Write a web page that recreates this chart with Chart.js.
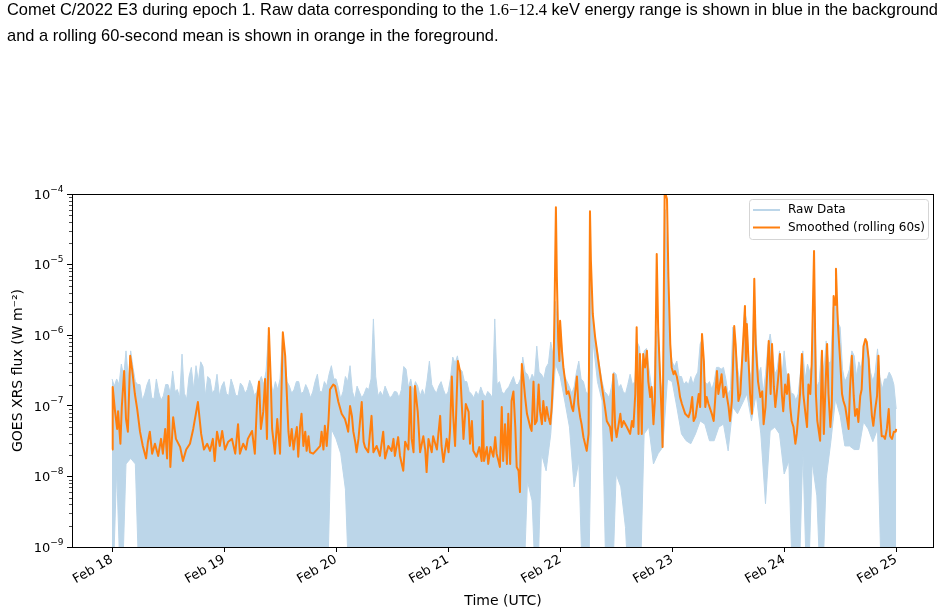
<!DOCTYPE html>
<html>
<head>
<meta charset="utf-8">
<script src="https://cdn.jsdelivr.net/npm/chart.js@4.4.1/dist/chart.umd.min.js"></script>
<style>
  html, body { margin: 0; padding: 0; background: #fff; }
  #lienzo { position: relative; width: 945px; height: 615px; overflow: hidden; }
  #grafico { position: absolute; left: 0; top: 0; }
  #leyenda-texto { position: absolute; left: 7px; top: 0; font-family: "Liberation Sans", Arial, sans-serif; font-size: 17px; color: #000; white-space: nowrap; transform-origin: 0 0; }
  #leyenda-texto div { position: absolute; left: 0; }
  .mate { font-family: "Liberation Serif", serif; }
</style>
</head>
<body>
<div id="lienzo">
  <canvas id="grafico" width="945" height="615"></canvas>
  <div id="leyenda-texto">
    <div id="linea1" style="top:0px">Comet C/2022 E3 during epoch 1. Raw data corresponding to the <span class="mate">1.6−12.4</span> keV energy range is shown in blue in the background</div>
    <div style="top:26px">and a rolling 60-second mean is shown in orange in the foreground.</div>
  </div>
</div>
<script>
// horas desde Feb 18 00:00 UTC
const etiquetasDias = ['Feb 18', 'Feb 19', 'Feb 20', 'Feb 21', 'Feb 22', 'Feb 23', 'Feb 24', 'Feb 25'];
const horasDias = [0, 24, 48, 72, 96, 120, 144, 168];
const decadasY = [1e-9, 1e-8, 1e-7, 1e-6, 1e-5, 1e-4];

// media movil 60 s (naranja)
const horasSuavizado = [
  0, 0.15, 0.6, 1.1, 1.3, 1.8, 2.1, 2.6, 3.0, 3.4, 3.9, 4.3, 4.9, 5.4, 6.0, 6.6, 7.3, 7.7, 8.1, 8.6,
  9.2, 9.9, 10.5, 10.9, 11.4, 11.8, 12.1, 12.5, 13.1, 13.7, 14.6, 15.2, 15.9, 16.7, 17.4, 18.4, 19.1, 19.7, 20.4, 21.0,
  21.6, 22.0, 22.5, 23.1, 23.6, 24.2, 24.9, 25.7, 26.4, 27.0, 27.4, 28.1, 28.7, 29.1, 30.0, 30.6, 31.1, 31.5, 31.9, 32.4,
  32.8, 33.2, 33.6, 34.0, 34.3, 34.9, 35.4, 36.0, 36.6, 37.1, 37.8, 38.1, 38.5, 38.9, 39.2, 39.6, 39.9, 40.3, 40.6, 41.0,
  41.4, 41.7, 42.1, 42.4, 43.1, 43.9, 44.6, 44.9, 45.3, 45.6, 46.0, 46.4, 46.7, 47.4, 47.8, 48.5, 49.2, 49.9, 50.3, 50.6,
  51.0, 51.4, 51.7, 52.1, 52.4, 52.8, 53.5, 53.9, 54.2, 54.9, 55.6, 56.0, 56.7, 57.4, 58.1, 58.5, 59.2, 59.9, 60.3, 60.6,
  61.3, 61.7, 62.4, 62.8, 63.5, 63.9, 64.2, 64.6, 64.9, 65.5, 66.0, 66.7, 67.1, 67.4, 67.8, 68.5, 68.8, 69.6, 70.3, 70.6,
  71.0, 71.7, 72.1, 72.4, 72.8, 73.1, 73.5, 74.1, 74.6, 75.3, 75.8, 76.4, 76.7, 77.1, 77.4, 78.1, 78.7, 79.2, 79.4, 79.7,
  80.3, 80.6, 81.1, 81.7, 82.1, 82.4, 82.8, 83.1, 83.5, 83.8, 84.2, 84.6, 84.9, 85.3, 85.6, 86.0, 86.4, 86.7, 87.1, 87.4,
  87.8, 88.1, 88.5, 88.9, 89.6, 89.9, 90.3, 90.6, 91.0, 91.4, 91.7, 92.1, 92.4, 92.8, 93.1, 93.5, 93.9, 94.2, 94.6, 94.8,
  95.1, 95.3, 95.6, 95.85, 96.0, 96.4, 96.7, 97.1, 97.4, 97.8, 98.1, 98.5, 98.8, 99.2, 99.6, 99.9, 100.3, 100.6, 101.0, 101.7,
  102.1, 102.4, 102.6, 103.0, 103.5, 104.2, 104.9, 105.6, 106.0, 106.7, 107.1, 107.4, 107.8, 108.1, 108.9, 109.2, 109.6, 110.3, 111.0, 111.4,
  111.7, 112.1, 112.4, 112.8, 113.1, 113.5, 113.8, 114.2, 114.6, 114.9, 115.3, 115.6, 116.0, 116.3, 116.7, 117.0, 117.4, 117.8, 117.95, 118.4,
  118.9, 119.2, 119.6, 119.9, 120.3, 120.6, 121.0, 121.4, 121.7, 122.1, 122.8, 123.5, 123.9, 124.3, 124.6, 125.0, 125.7, 126.0, 126.4, 126.8,
  127.1, 127.4, 127.8, 128.5, 128.9, 129.2, 129.6, 129.9, 130.6, 131.0, 131.4, 132.1, 132.4, 132.8, 133.3, 133.6, 134.2, 134.6, 134.9, 135.3,
  135.6, 135.8, 136.0, 136.4, 136.7, 137.1, 137.6, 137.9, 138.4, 138.9, 139.3, 139.6, 140.0, 140.7, 141.1, 141.4, 141.8, 142.1, 142.4, 142.8,
  143.1, 143.5, 143.8, 144.2, 144.6, 144.9, 145.3, 145.6, 146.0, 146.4, 146.7, 147.1, 147.4, 147.8, 148.1, 148.5, 148.9, 149.2, 149.6, 149.9,
  150.4, 150.8, 151.1, 151.5, 151.7, 152.1, 152.5, 152.8, 153.2, 153.5, 153.9, 154.2, 154.6, 154.9, 155.1, 155.4, 155.6, 156.0, 156.4, 156.7,
  157.1, 157.8, 158.1, 158.5, 158.9, 159.2, 159.6, 159.9, 160.3, 160.6, 161.0, 161.4, 161.7, 162.1, 162.4, 162.8, 163.1, 163.5, 163.9, 164.2,
  164.6, 164.9, 165.3, 165.6, 166.0, 166.4, 166.7, 167.1, 167.5, 167.9, 168.0
];
const flujoSuavizado = [
  2.4e-8, 1.85e-7, 9.0e-8, 4.7e-8, 8.4e-8, 2.9e-8, 9.6e-8, 3.1e-7, 6.5e-8, 4.3e-8, 5.1e-7, 3.3e-7, 1.47e-7, 9.0e-8, 4.3e-8, 2.7e-8, 1.8e-8, 3.1e-8, 4.3e-8, 2.1e-8,
  2.9e-8, 1.95e-8, 3.4e-8, 2.1e-8, 4.7e-8, 1.8e-8, 1.38e-7, 1.36e-8, 6.9e-8, 3.4e-8, 2.6e-8, 1.65e-8, 2.4e-8, 2.9e-8, 4.7e-8, 1.13e-7, 4.0e-8, 2.4e-8, 2.9e-8, 2.3e-8,
  3.4e-8, 1.65e-8, 4.3e-8, 2.7e-8, 4.4e-8, 2.4e-8, 3.1e-8, 3.4e-8, 2.1e-8, 5.5e-8, 2.1e-8, 2.9e-8, 2.4e-8, 3.4e-8, 4.4e-8, 2.1e-8, 1.25e-7, 2.2e-7, 4.7e-8, 8.2e-8,
  2.4e-7, 3.4e-8, 1.26e-6, 2.4e-7, 4.7e-8, 2.1e-8, 6.5e-8, 2.1e-8, 1.1e-6, 5.1e-7, 4.3e-8, 2.7e-8, 4.7e-8, 2.4e-8, 3.4e-8, 5.0e-8, 1.9e-8, 5.2e-8, 7.7e-8, 2.7e-8,
  4.3e-8, 2.3e-8, 3.7e-8, 2.2e-8, 2.1e-8, 2.4e-8, 2.7e-8, 4.3e-8, 2.4e-8, 5.2e-8, 2.7e-8, 6.5e-8, 1.7e-7, 2.0e-7, 1.9e-7, 1.13e-7, 7.7e-8, 6.5e-8, 5.2e-8, 4.3e-8,
  9.9e-8, 7.2e-8, 4.3e-8, 3.1e-8, 2.2e-8, 3.4e-8, 1.13e-7, 3.1e-8, 2.6e-8, 2.2e-8, 7.2e-8, 2.2e-8, 2.7e-8, 1.95e-8, 4.3e-8, 1.8e-8, 2.7e-8, 2.3e-8, 3.4e-8, 1.95e-8,
  3.6e-8, 1.95e-8, 1.2e-8, 3.1e-8, 2.4e-8, 1.85e-7, 3.4e-8, 2.2e-8, 1.9e-7, 8.2e-8, 2.2e-8, 3.7e-8, 2.4e-8, 1.15e-8, 3.4e-8, 2.2e-8, 3.7e-8, 2.4e-8, 7.2e-8, 2.7e-8,
  1.6e-8, 3.4e-8, 2.2e-8, 4.3e-8, 2.6e-7, 7.2e-8, 2.7e-8, 4.3e-7, 3.0e-7, 3.4e-8, 1.06e-7, 8.2e-8, 2.9e-8, 6.1e-8, 2.3e-8, 1.9e-8, 2.6e-8, 1.65e-8, 1.17e-7, 1.65e-8,
  2.6e-8, 1.5e-8, 2.6e-8, 1.9e-8, 3.6e-8, 2.1e-8, 1.65e-8, 1.36e-8, 9.6e-8, 1.65e-8, 5.5e-8, 1.5e-8, 7.7e-8, 1.5e-8, 1.17e-7, 1.6e-7, 5.0e-8, 1.36e-8, 1.2e-8, 6.0e-9,
  3.9e-7, 2.6e-7, 1.33e-7, 7.7e-8, 5.0e-8, 4.4e-8, 2.2e-7, 5.5e-8, 6.1e-8, 2.0e-7, 8.4e-8, 5.5e-8, 1.17e-7, 6.1e-8, 9.6e-8, 6.9e-8, 5.5e-8, 9.6e-8, 3.5e-7, 2.2e-6,
  6.5e-5, 6.7e-6, 8.3e-7, 4.3e-7, 1.6e-6, 6.0e-7, 3.5e-7, 2.2e-7, 1.47e-7, 1.6e-7, 1.33e-7, 9.6e-8, 8.4e-8, 1.47e-7, 2.6e-7, 1.06e-7, 6.9e-8, 5.5e-8, 3.6e-8, 2.3e-8,
  4.0e-8, 5.7e-5, 1.12e-5, 2.0e-6, 9.4e-7, 4.3e-7, 2.0e-7, 9.6e-8, 6.1e-8, 5.0e-8, 3.2e-8, 2.8e-7, 5.0e-8, 3.6e-8, 7.7e-8, 5.0e-8, 6.1e-8, 5.0e-8, 4.0e-8, 6.1e-8,
  5.0e-8, 1.47e-7, 1.3e-6, 4.0e-8, 5.4e-7, 4.0e-8, 5.4e-7, 3.5e-7, 6.0e-7, 2.2e-7, 1.33e-7, 1.85e-7, 5.5e-8, 1.17e-7, 1.41e-5, 1.3e-6, 2.8e-7, 6.1e-8, 2.6e-8, 1.1e-4,
  8.5e-5, 6.7e-6, 7.5e-7, 3.5e-7, 2.8e-7, 3.1e-7, 2.6e-7, 1.85e-7, 1.33e-7, 1.06e-7, 7.7e-8, 6.9e-8, 8.4e-8, 1.33e-7, 6.1e-8, 6.9e-8, 1.47e-7, 9.6e-8, 1.04e-6, 4.3e-7,
  9.6e-8, 1.33e-7, 1.06e-7, 7.7e-8, 6.1e-8, 1.17e-7, 3.1e-7, 1.47e-7, 2.8e-7, 1.33e-7, 1.85e-7, 9.6e-8, 6.1e-8, 1.17e-7, 1.35e-6, 7.5e-7, 1.17e-7, 1.47e-7, 3.5e-7, 1.04e-6,
  2.6e-6, 4.3e-7, 1.44e-6, 3.9e-7, 1.47e-7, 7.7e-8, 6.3e-6, 7.5e-7, 2.2e-7, 1.33e-7, 1.6e-7, 5.5e-8, 9.6e-8, 8.3e-7, 1.47e-7, 7.5e-7, 1.85e-7, 9.6e-8, 1.47e-7, 2.8e-7,
  5.4e-7, 1.47e-7, 8.4e-8, 2.0e-7, 1.47e-7, 2.8e-7, 9.6e-8, 6.1e-8, 5.0e-8, 2.9e-8, 4.0e-8, 8.4e-8, 1.47e-7, 5.4e-7, 1.47e-7, 8.4e-8, 5.0e-8, 2.0e-7, 1.47e-7, 3.9e-7,
  1.56e-5, 1.47e-7, 6.1e-8, 4.0e-8, 3.2e-8, 6.0e-7, 4.0e-8, 1.47e-7, 7.5e-7, 1.47e-7, 5.0e-8, 9.6e-8, 3.6e-6, 2.7e-6, 8.7e-6, 2.2e-6, 1.15e-6, 4.3e-7, 1.47e-7, 1.17e-7,
  9.6e-8, 4.7e-8, 1.7e-7, 5.1e-7, 1.38e-7, 7.2e-8, 9.0e-8, 5.9e-8, 1.38e-7, 1.7e-7, 7.0e-7, 8.8e-7, 8.0e-7, 4.6e-7, 1.7e-7, 7.2e-8, 5.2e-8, 9.0e-8, 1.38e-7, 5.1e-7,
  7.2e-8, 3.7e-8, 3.7e-8, 3.4e-8, 4.7e-8, 9.0e-8, 3.7e-8, 3.4e-8, 4.3e-8, 4.3e-8, 4.7e-8
];

// datos crudos: borde alto cada 30 min, borde bajo cada hora
// (1e-10 = por debajo del eje, la banda llega al fondo)
const PASO_ALTO_H = 0.5;
const PASO_BAJO_H = 1;
const flujoCrudoAlto = [
  2.4e-7, 1.9e-7, 2.4e-7, 2.0e-7, 3.9e-7, 2.6e-7, 6.0e-7, 2.4e-7, 6.0e-7, 3.5e-7, 2.2e-7, 2.0e-7, 2.0e-7, 1.2e-7, 1.47e-7, 2.0e-7, 2.4e-7, 1.3e-7, 1.25e-7, 2.4e-7,
  1.57e-7, 1.2e-7, 1.38e-7, 2.0e-7, 2.0e-7, 1.5e-7, 3.1e-7, 1.6e-7, 1.7e-7, 1.3e-7, 5.4e-7, 1.5e-7, 1.25e-7, 2.6e-7, 3.5e-7, 1.7e-7, 3.7e-7, 2.2e-7, 4.2e-7, 3.6e-7,
  1.38e-7, 2.6e-7, 2.4e-7, 1.5e-7, 1.7e-7, 2.8e-7, 1.38e-7, 1.9e-7, 2.2e-7, 1.5e-7, 1.38e-7, 2.4e-7, 1.9e-7, 1.4e-7, 1.38e-7, 2.1e-7, 1.9e-7, 1.5e-7, 1.7e-7, 2.3e-7,
  1.9e-7, 1.4e-7, 1.57e-7, 2.2e-7, 2.6e-7, 2.0e-7, 3.1e-7, 1.0e-6, 2.4e-7, 1.5e-7, 2.2e-7, 1.7e-7, 2.4e-7, 9.0e-7, 5.0e-7, 2.2e-7, 1.9e-7, 1.5e-7, 1.7e-7, 2.2e-7,
  2.2e-7, 1.5e-7, 1.57e-7, 2.0e-7, 1.7e-7, 1.3e-7, 1.57e-7, 2.2e-7, 2.8e-7, 1.6e-7, 1.57e-7, 2.2e-7, 1.9e-7, 2.8e-7, 3.7e-7, 2.4e-7, 2.4e-7, 1.8e-7, 1.25e-7, 1.6e-7,
  2.6e-7, 2.2e-7, 3.7e-7, 1.6e-7, 1.25e-7, 1.9e-7, 1.57e-7, 1.3e-7, 1.47e-7, 1.8e-7, 1.7e-7, 2.4e-7, 1.7e-6, 2.6e-7, 1.38e-7, 1.6e-7, 1.38e-7, 1.9e-7, 1.57e-7, 1.3e-7,
  1.38e-7, 1.6e-7, 1.57e-7, 1.3e-7, 1.7e-7, 3.6e-7, 3.3e-7, 1.8e-7, 2.4e-7, 1.6e-7, 2.2e-7, 1.9e-7, 1.38e-7, 1.7e-7, 1.38e-7, 2.3e-7, 4.3e-7, 2.0e-7, 1.7e-7, 1.5e-7,
  1.9e-7, 2.2e-7, 1.7e-7, 1.4e-7, 1.57e-7, 2.4e-7, 4.9e-7, 4.0e-7, 5.1e-7, 3.3e-7, 3.1e-7, 2.2e-7, 2.2e-7, 1.6e-7, 1.47e-7, 1.3e-7, 1.6e-7, 1.4e-7, 1.85e-7, 1.5e-7,
  1.33e-7, 1.6e-7, 1.47e-7, 1.3e-7, 1.7e-6, 2.0e-7, 2.2e-7, 1.6e-7, 1.47e-7, 1.7e-7, 1.85e-7, 2.2e-7, 2.6e-7, 2.0e-7, 2.0e-7, 2.4e-7, 4.9e-7, 3.0e-7, 2.8e-7, 2.2e-7,
  2.8e-7, 2.4e-7, 7.0e-7, 3.0e-7, 2.8e-7, 2.4e-7, 3.5e-7, 4.0e-7, 8.0e-7, 5.0e-7, 3.0e-6, 1.2e-6, 1.6e-6, 5.0e-7, 2.6e-7, 2.2e-7, 1.85e-7, 1.5e-7, 1.85e-7, 3.0e-7,
  4.3e-7, 2.4e-7, 2.2e-7, 1.6e-7, 1.47e-7, 1.0e-5, 2.0e-6, 9.0e-7, 6.0e-7, 3.5e-7, 2.2e-7, 1.6e-7, 1.47e-7, 1.3e-7, 1.85e-7, 3.0e-7, 2.8e-7, 1.8e-7, 2.0e-7, 1.6e-7,
  1.47e-7, 2.0e-7, 2.8e-7, 2.0e-7, 2.2e-7, 8.0e-7, 6.8e-7, 3.0e-7, 6.0e-7, 6.5e-7, 3.5e-7, 2.0e-7, 1.17e-7, 1.0e-6, 1.3e-6, 2.2e-7, 1.38e-7, 6.0e-5, 8.0e-6, 8.0e-7,
  4.2e-7, 3.6e-7, 4.3e-7, 2.6e-7, 2.6e-7, 2.0e-7, 2.2e-7, 2.0e-7, 2.6e-7, 2.0e-7, 2.6e-7, 3.0e-7, 7.5e-7, 9.0e-7, 2.2e-7, 2.0e-7, 2.2e-7, 1.7e-7, 2.2e-7, 3.5e-7,
  3.5e-7, 3.3e-7, 3.5e-7, 2.4e-7, 1.47e-7, 1.7e-7, 1.3e-6, 9.0e-7, 3.5e-7, 2.2e-7, 4.3e-7, 2.2e-6, 1.6e-6, 3.5e-7, 2.2e-7, 3.0e-6, 9.4e-7, 2.8e-7, 3.5e-7, 1.5e-7,
  2.8e-7, 7.0e-7, 1.04e-6, 6.0e-7, 2.8e-7, 3.3e-7, 6.0e-7, 2.4e-7, 6.0e-7, 2.8e-7, 2.8e-7, 1.5e-7, 1.47e-7, 1.2e-7, 1.47e-7, 3.0e-7, 6.0e-7, 2.4e-7, 3.9e-7, 3.0e-7,
  3.9e-7, 3.0e-6, 1.85e-7, 2.2e-7, 6.0e-7, 3.0e-7, 8.3e-7, 4.0e-7, 4.3e-7, 2.5e-6, 3.0e-6, 1.5e-6, 1.3e-6, 3.3e-7, 2.2e-7, 2.6e-7, 3.3e-7, 6.0e-7, 5.1e-7, 2.6e-7,
  4.2e-7, 3.3e-7, 7.0e-7, 9.0e-7, 5.8e-7, 3.0e-7, 2.2e-7, 3.0e-7, 6.4e-7, 2.6e-7, 1.7e-7, 2.4e-7, 2.4e-7, 3.0e-7, 2.6e-7, 2.0e-7, 9.0e-8
];
const flujoCrudoBajo = [
  1e-10, 1.27e-8, 1e-10, 1.5e-8, 1.8e-8, 1.5e-8, 1e-10, 1e-10, 1e-10, 1e-10,
  1e-10, 1e-10, 1e-10, 1e-10, 1e-10, 1e-10, 1e-10, 1e-10, 1e-10, 1e-10,
  1e-10, 1e-10, 1e-10, 1e-10, 1e-10, 1e-10, 1e-10, 1e-10, 1e-10, 1e-10,
  1e-10, 1e-10, 1e-10, 1e-10, 1e-10, 1e-10, 1e-10, 1e-10, 1e-10, 1e-10,
  1e-10, 1e-10, 1e-10, 1e-10, 1e-10, 1e-10, 1e-10, 4.7e-8, 3.4e-8, 2.1e-8,
  6.6e-9, 1e-10, 1e-10, 1e-10, 1e-10, 1e-10, 1e-10, 1e-10, 1e-10, 1e-10,
  1e-10, 1e-10, 1e-10, 1e-10, 1e-10, 1e-10, 1e-10, 1e-10, 1e-10, 1e-10,
  1e-10, 1e-10, 1e-10, 1e-10, 1e-10, 1e-10, 1e-10, 1e-10, 1e-10, 1e-10,
  1e-10, 1e-10, 1e-10, 1e-10, 1e-10, 1e-10, 1e-10, 1e-10, 1e-10, 8.6e-9,
  4.5e-9, 1e-10, 2.1e-8, 1.2e-8, 4.0e-8, 3.9e-7, 2.6e-7, 1.17e-7, 5.0e-8, 7.1e-9,
  1.65e-8, 1e-10, 1e-10, 8.8e-7, 2.2e-7, 1.17e-7, 1e-10, 1e-10, 1.08e-8, 7.1e-9,
  1.9e-9, 1e-10, 1e-10, 1e-10, 4.0e-8, 5.0e-8, 1.5e-8, 2.1e-8, 2.6e-8, 2.4e-7,
  2.2e-7, 9.6e-8, 4.0e-8, 3.2e-8, 2.9e-8, 4.0e-8, 6.1e-8, 5.5e-8, 3.2e-8, 3.2e-8,
  5.0e-8, 5.5e-8, 2.3e-8, 9.6e-8, 7.7e-8, 1.06e-7, 1.47e-7, 6.1e-8, 1.47e-7, 4.0e-8,
  4.1e-9, 4.4e-8, 5.0e-8, 4.0e-8, 1.08e-8, 1.65e-8, 1e-10, 1e-10, 2.4e-8, 1e-10,
  1.6e-8, 5.3e-9, 1e-10, 9.2e-9, 3.1e-8, 1.25e-7, 7.2e-8, 2.7e-8, 2.7e-8, 2.4e-8,
  2.4e-8, 5.9e-8, 4.7e-8, 3.1e-8, 4.7e-8, 1e-10, 1e-10, 1e-10, 1e-10
];

const AZUL_CRUDO = '#bcd6e9';
const NARANJA = '#ff7f0e';

// ajustar el pie de figura al ancho del original
const pie = document.getElementById('leyenda-texto');
const anchoLinea1 = document.getElementById('linea1').getBoundingClientRect().width;
pie.style.transform = 'scaleX(' + (931 / anchoLinea1) + ')';

// ticks menores del eje log (2..9 x 10^n)
const ticksMenores = [];
decadasY.slice(0, -1).forEach(d => {
  for (let m = 2; m <= 9; m++) ticksMenores.push(m * d);
});

const marcoYLeyenda = {
  id: 'marcoYLeyenda',
  afterDraw(chart) {
    const { ctx, chartArea: a, scales: { y } } = chart;
    ctx.save();
    ctx.strokeStyle = '#000';
    ctx.lineWidth = 1;
    ctx.strokeRect(a.left + 0.5, a.top + 0.5, a.right - a.left - 1, a.bottom - a.top);

    ctx.lineWidth = 0.7;
    ticksMenores.forEach(v => {
      const py = Math.round(y.getPixelForValue(v)) + 0.5;
      ctx.beginPath();
      ctx.moveTo(a.left - 3, py);
      ctx.lineTo(a.left, py);
      ctx.stroke();
    });

    // etiquetas 10^n con exponente en superindice
    ctx.fillStyle = '#000';
    ctx.textBaseline = 'alphabetic';
    ctx.textAlign = 'left';
    decadasY.forEach(v => {
      const py = y.getPixelForValue(v);
      const exp = '−' + String(Math.abs(Math.round(Math.log10(v))));
      ctx.font = '9px "DejaVu Sans"';
      const wExp = ctx.measureText(exp).width;
      ctx.font = '13px "DejaVu Sans"';
      const wBase = ctx.measureText('10').width;
      const xFin = a.left - 8.5;
      ctx.fillText('10', xFin - wExp - wBase, py + 4.7);
      ctx.font = '9px "DejaVu Sans"';
      ctx.fillText(exp, xFin - wExp, py - 2.5);
    });

    // leyenda
    const lx = 749.5, ly = 199.5, lw = 179, lh = 40, r = 3;
    ctx.beginPath();
    ctx.moveTo(lx + r, ly);
    ctx.arcTo(lx + lw, ly, lx + lw, ly + lh, r);
    ctx.arcTo(lx + lw, ly + lh, lx, ly + lh, r);
    ctx.arcTo(lx, ly + lh, lx, ly, r);
    ctx.arcTo(lx, ly, lx + lw, ly, r);
    ctx.closePath();
    ctx.fillStyle = 'rgba(255,255,255,0.8)';
    ctx.fill();
    ctx.strokeStyle = '#d5d5d5';
    ctx.lineWidth = 1;
    ctx.stroke();

    ctx.lineWidth = 2;
    ctx.strokeStyle = AZUL_CRUDO;
    ctx.beginPath(); ctx.moveTo(753, 210); ctx.lineTo(780, 210); ctx.stroke();
    ctx.strokeStyle = NARANJA;
    ctx.beginPath(); ctx.moveTo(753, 227.5); ctx.lineTo(780, 227.5); ctx.stroke();

    ctx.fillStyle = '#000';
    ctx.font = '12px "DejaVu Sans"';
    ctx.textBaseline = 'middle';
    ctx.fillText('Raw Data', 788, 210);
    ctx.fillText('Smoothed (rolling 60s)', 788, 227.5);
    ctx.restore();
  }
};

Chart.defaults.font.family = '"DejaVu Sans", sans-serif';
Chart.defaults.color = '#000';

const ctx = document.getElementById('grafico').getContext('2d');
new Chart(ctx, {
  type: 'line',
  data: {
    datasets: [
      {
        label: 'Smoothed (rolling 60s)',
        data: horasSuavizado.map((h, i) => ({ x: h, y: flujoSuavizado[i] })),
        borderColor: NARANJA,
        borderWidth: 2,
        borderJoinStyle: 'round',
        pointRadius: 0,
        fill: false
      },
      {
        label: 'Raw Data',
        data: flujoCrudoAlto.map((v, i) => ({ x: i * PASO_ALTO_H, y: v })),
        borderColor: AZUL_CRUDO,
        backgroundColor: AZUL_CRUDO,
        borderWidth: 1,
        pointRadius: 0,
        fill: '+1'
      },
      {
        label: 'Raw Data (bajo)',
        data: flujoCrudoBajo.map((v, i) => ({ x: i * PASO_BAJO_H, y: v })),
        borderColor: AZUL_CRUDO,
        borderWidth: 1,
        pointRadius: 0,
        fill: false
      }
    ]
  },
  options: {
    responsive: false,
    animation: false,
    layout: { padding: { top: 194, right: 11, left: 0, bottom: 0 } },
    plugins: {
      legend: { display: false },
      tooltip: { enabled: false }
    },
    scales: {
      x: {
        type: 'linear',
        min: -8.57,
        max: 176.1,
        afterBuildTicks: (s) => { s.ticks = horasDias.map(v => ({ value: v })); },
        afterFit: (s) => { s.height = 68; },
        ticks: {
          autoSkip: false,
          minRotation: 30,
          maxRotation: 30,
          padding: 0,
          font: { size: 13 },
          callback: (v, i) => etiquetasDias[i]
        },
        grid: { drawOnChartArea: false, tickLength: 5, tickColor: '#000' },
        border: { display: false },
        title: { display: true, text: 'Time (UTC)', font: { size: 14 }, padding: { top: 0, bottom: 5 } }
      },
      y: {
        type: 'logarithmic',
        min: 1e-9,
        max: 1e-4,
        afterBuildTicks: (s) => { s.ticks = decadasY.map(v => ({ value: v })); },
        afterFit: (s) => { s.width = 72; },
        ticks: { display: false },
        grid: { drawOnChartArea: false, tickLength: 5, tickColor: '#000' },
        border: { display: false },
        title: { display: true, text: 'GOES XRS flux (W m⁻²)', font: { size: 14 }, padding: { top: 10, bottom: 0 } }
      }
    }
  },
  plugins: [marcoYLeyenda]
});
</script>
</body>
</html>
